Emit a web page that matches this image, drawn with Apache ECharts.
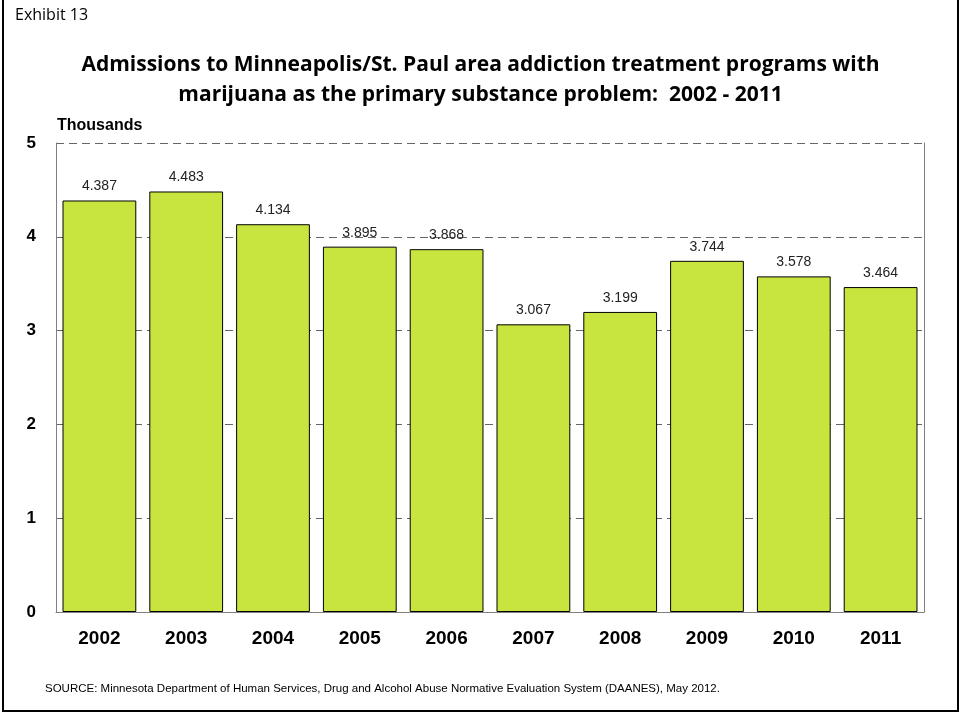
<!DOCTYPE html>
<html>
<head>
<meta charset="utf-8">
<script src="https://cdn.jsdelivr.net/npm/echarts@6/dist/echarts.min.js"></script>
<style>
  html, body { margin: 0; padding: 0; background: #fff; }
  #chart { width: 961px; height: 713px; }
</style>
</head>
<body>
<div id="chart"></div>
<script>
// admissions, in thousands
const years = ['2002', '2003', '2004', '2005', '2006', '2007', '2008', '2009', '2010', '2011']
const admissions = [4.387, 4.483, 4.134, 3.895, 3.868, 3.067, 3.199, 3.744, 3.578, 3.464]
const yTicks = [0, 1, 2, 3, 4, 5]

const chart = echarts.init(document.getElementById('chart'))
chart.setOption({
  backgroundColor: '#ffffff',
  animation: false,
  title: [{
    text: 'Exhibit 13',
    left: 10,
    top: 2,
    textStyle: {
      fontFamily: 'Open Sans',
      fontWeight: 'normal',
      fontSize: 16,
      color: '#000'
    }
  }, {
    text: 'Admissions to Minneapolis/St. Paul area addiction treatment programs with\nmarijuana as the primary substance problem:  2002 - 2011',
    left: 'center',
    top: 45,
    textStyle: {
      fontFamily: 'Open Sans',
      fontWeight: 'bold',
      fontSize: 21,
      lineHeight: 30,
      color: '#000'
    }
  }],
  graphic: [{
    type: 'rect',
    shape: { x: 3, y: -5, width: 955, height: 716 },
    style: { fill: 'none', stroke: '#000', lineWidth: 2 }
  }, {
    type: 'text',
    left: 57,
    top: 118,
    style: {
      text: 'Thousands',
      font: 'bold 16px "Liberation Sans", Arial, sans-serif',
      fill: '#000'
    }
  }, {
    type: 'text',
    left: 45,
    top: 683,
    style: {
      text: 'SOURCE: Minnesota Department of Human Services, Drug and Alcohol Abuse Normative Evaluation System (DAANES), May 2012.',
      font: '11.5px "Liberation Sans", Arial, sans-serif',
      fill: '#000'
    }
  }],
  grid: {
    left: 56,
    right: 37,
    top: 143,
    bottom: 101
  },
  xAxis: {
    type: 'category',
    data: years,
    axisTick: { show: false },
    axisLine: { lineStyle: { color: '#808080', width: 1 } },
    axisLabel: {
      margin: 17,
      fontFamily: 'Liberation Sans',
      fontWeight: 'bold',
      fontSize: 19,
      color: '#000'
    }
  },
  yAxis: [{
    type: 'value',
    min: yTicks[0],
    max: yTicks[yTicks.length - 1],
    interval: 1,
    axisTick: { show: false },
    axisLine: { show: true, lineStyle: { color: '#808080', width: 1 } },
    axisLabel: {
      margin: 20,
      fontFamily: 'Liberation Sans',
      fontWeight: 'bold',
      fontSize: 17,
      color: '#000'
    },
    splitLine: {
      lineStyle: { color: '#666666', type: [8, 5], width: 1 }
    }
  }, {
    type: 'value',
    position: 'right',
    min: yTicks[0],
    max: yTicks[yTicks.length - 1],
    interval: 1,
    axisTick: { show: false },
    axisLabel: { show: false },
    splitLine: { show: false },
    axisLine: { show: true, lineStyle: { color: '#808080', width: 1 } }
  }],
  series: [{
    type: 'bar',
    data: admissions,
    barCategoryGap: '15%',
    itemStyle: {
      color: '#c8e43e',
      borderColor: '#000',
      borderWidth: 1
    },
    label: {
      show: true,
      position: 'top',
      distance: 7,
      fontFamily: 'Liberation Sans',
      fontSize: 14,
      color: '#222',
      formatter: p => p.value.toFixed(3)
    }
  }]
})
</script>
</body>
</html>
